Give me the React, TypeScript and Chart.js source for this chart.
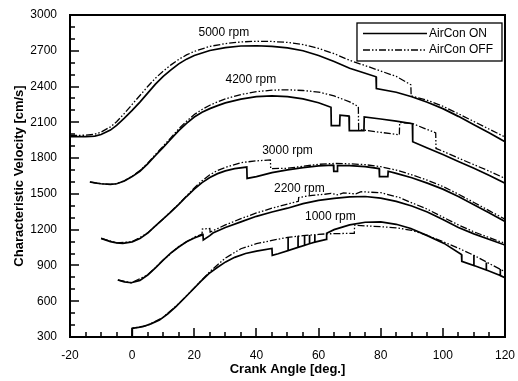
import { useEffect, useRef } from "react";
import { Chart, registerables } from "chart.js";

Chart.register(...registerables);

type Pt = [number, number];

// Crank angle [deg.] vs characteristic velocity [cm/s]
const on5000: Pt[] = [[-20,1980],[-15,1980],[-12,1985],[-10,1998],[-7,2035],[-5,2075],[-2.5,2135],[0,2200],[2.5,2270],[5,2345],[7.5,2420],[10,2485],[12.5,2540],[15,2590],[17.5,2630],[20,2660],[25,2702],[30,2727],[35,2740],[40,2742],[45,2737],[50,2725],[55,2700],[60,2660],[65,2610],[70,2553],[75,2512],[78.5,2482],[78.6,2384],[85,2352],[90,2315],[95,2268],[100,2215],[105,2150],[110,2080],[115,2010],[120,1937]];
const off5000: Pt[] = [[-20,1990],[-15,1992],[-12,2000],[-10,2018],[-7,2062],[-5,2105],[-2.5,2175],[0,2250],[2.5,2325],[5,2400],[7.5,2470],[10,2530],[12.5,2582],[15,2628],[17.5,2665],[20,2695],[25,2737],[30,2760],[35,2774],[40,2780],[45,2778],[50,2770],[55,2752],[60,2720],[65,2676],[70,2620],[75,2576],[80,2530],[85,2485],[89.7,2415],[89.8,2322],[95,2285],[100,2235],[105,2172],[110,2107],[115,2042],[120,1977]];

const on4200: Pt[] = [[-13.6,1600],[-12,1592],[-10,1585],[-7,1580],[-5,1585],[-2.5,1608],[0,1645],[2.5,1690],[5,1752],[7.5,1822],[10,1890],[12.5,1960],[15,2030],[17.5,2092],[20,2145],[22.5,2185],[25,2215],[27.5,2240],[30,2263],[35,2295],[40,2315],[45,2322],[50,2316],[55,2297],[60,2264],[64,2226],[64.1,2072],[66.8,2072],[66.9,2160],[69.8,2152],[69.9,2030],[74.6,2030],[74.7,2145],[80,2128],[85,2110],[90.2,2088],[90.3,1937],[95,1885],[100,1830],[105,1772],[110,1715],[115,1655],[120,1590]];
const off4200: Pt[] = [[-13.6,1600],[-10,1585],[-7,1580],[-5,1585],[-2.5,1610],[0,1648],[2.5,1695],[5,1758],[7.5,1830],[10,1900],[12.5,1972],[15,2045],[17.5,2110],[20,2165],[22.5,2208],[25,2243],[27.5,2272],[30,2297],[35,2333],[40,2357],[45,2370],[50,2373],[55,2367],[60,2354],[65,2322],[70,2272],[72.8,2232],[72.9,2040],[80,2016],[86,1995],[86.1,2098],[90.2,2090],[94,2050],[97.7,2012],[97.8,1881],[100,1858],[105,1800],[110,1745],[115,1690],[120,1630]];

const on3000: Pt[] = [[-10,1127],[-7,1100],[-5,1090],[-3,1085],[0,1098],[2.5,1125],[5,1172],[7.5,1232],[10,1290],[12.5,1350],[15,1412],[17.5,1478],[20,1540],[22.5,1595],[25,1638],[27.5,1670],[30,1693],[33,1712],[36.9,1725],[37,1630],[40,1645],[45,1678],[50,1702],[55,1720],[60,1735],[64.8,1742],[64.9,1688],[66,1688],[66.1,1738],[70,1737],[75,1728],[79.5,1712],[79.6,1645],[82.3,1645],[82.4,1690],[85,1672],[90,1635],[95,1590],[100,1540],[105,1478],[110,1408],[115,1340],[120,1268]];
const off3000: Pt[] = [[-10,1127],[-5,1090],[0,1098],[5,1172],[10,1290],[15,1415],[17.5,1483],[20,1550],[22.5,1610],[25,1660],[27.5,1697],[30,1722],[35,1762],[40,1777],[44.5,1785],[44.6,1712],[50,1715],[55,1732],[60,1748],[65,1755],[70,1752],[75,1745],[80,1728],[85,1700],[90,1660],[95,1615],[100,1562],[105,1498],[110,1428],[115,1358],[120,1288]];

const on2200: Pt[] = [[-4.6,778],[-2.5,762],[-0.3,755],[2.5,775],[5,820],[7.5,880],[10,945],[12.5,1005],[15,1055],[17.5,1098],[20,1130],[22.8,1158],[22.9,1113],[25,1150],[26,1172],[30,1218],[35,1265],[40,1312],[45,1348],[50,1380],[55,1418],[60,1445],[65,1463],[70,1475],[75,1478],[80,1465],[85,1437],[90,1398],[95,1348],[100,1285],[105,1218],[110,1165],[115,1118],[120,1071]];
const off2200: Pt[] = [[-4.6,778],[-0.3,755],[5,820],[10,945],[15,1058],[20,1138],[22.5,1162],[22.6,1205],[25,1210],[25.1,1180],[30,1240],[35,1292],[40,1340],[45,1380],[50,1415],[53.5,1438],[53.6,1470],[58,1488],[62,1497],[64,1505],[66,1492],[68,1508],[72,1500],[73.7,1518],[80,1510],[86,1470],[90,1425],[95,1372],[100,1305],[105,1240],[110,1182],[115,1132],[120,1085]];

const on1000: Pt[] = [[0,300],[0.05,373],[3.4,386],[6,410],[8.8,442],[11.5,495],[14.1,554],[16.8,625],[19.4,694],[22,765],[24.7,832],[27.5,885],[30.1,930],[33,968],[36.5,1000],[40,1020],[45,1042],[45.1,985],[47,998],[50.2,1025],[50.2,1138],[50.2,1025],[53.4,1052],[53.4,1148],[53.4,1052],[55.5,1068],[55.5,1152],[55.5,1068],[57.1,1082],[57.1,1155],[57.1,1082],[58.8,1095],[58.8,1158],[58.8,1095],[62.5,1118],[62.6,1170],[65,1200],[70,1240],[75,1262],[80,1266],[85,1245],[89.7,1210],[95,1150],[100.4,1085],[106,992],[106.1,935],[110,900],[110,985],[110,900],[114,862],[114,925],[114,862],[118.5,815],[118.5,870],[118.5,815],[120,797]];
const off1000: Pt[] = [[0,300],[0.05,373],[5,398],[10,465],[15,580],[20,712],[25,848],[30,962],[35,1040],[40,1082],[45,1110],[50,1135],[55,1150],[60,1160],[62.6,1165],[71.5,1170],[71.6,1238],[75,1232],[80,1225],[85,1215],[90,1195],[95,1152],[100,1100],[105,1045],[110,985],[115,915],[120,847]];

const rpmLabels = ["5000 rpm", "4200 rpm", "3000 rpm", "2200 rpm", "1000 rpm"];
const rpmLabelAngles = [29.5, 38.2, 50, 53.8, 63.8];
const rpmLabelVelocities = [2852, 2454, 1859, 1540, 1306];

const seriesOn = [on5000, on4200, on3000, on2200, on1000];
const seriesOff = [off5000, off4200, off3000, off2200, off1000];
const legendNames = ["AirCon ON", "AirCon OFF"];

const xTicks = { min: -20, max: 120, step: 20, minor: 5 };
const yTicks = { min: 300, max: 3000, step: 300, minor: 100 };

const FONT = "'Liberation Sans', Arial, Helvetica, sans-serif";
const OFF_DASH = [7, 2, 1.5, 2, 1.5, 2];

const decorPlugin = {
  id: "decor",
  afterDraw(chart: any) {
    const { ctx, chartArea: a, scales } = chart;
    const xs = scales.x;
    const ys = scales.y;
    ctx.save();
    ctx.strokeStyle = "#000";
    ctx.fillStyle = "#000";
    ctx.setLineDash([]);

    // inward tick marks on the bottom and left axes
    ctx.lineWidth = 1.5;
    ctx.beginPath();
    for (let v = xTicks.min; v <= xTicks.max + 1e-6; v += xTicks.minor) {
      const px = Math.round(xs.getPixelForValue(v));
      const len = Math.abs(v % xTicks.step) < 1e-6 ? 9 : 5;
      ctx.moveTo(px, a.bottom);
      ctx.lineTo(px, a.bottom - len);
    }
    for (let v = yTicks.min; v <= yTicks.max + 1e-6; v += yTicks.minor) {
      const py = Math.round(ys.getPixelForValue(v));
      const len = Math.abs((v - yTicks.min) % yTicks.step) < 1e-6 ? 9 : 5;
      ctx.moveTo(a.left, py);
      ctx.lineTo(a.left + len, py);
    }
    ctx.stroke();

    // plot frame
    ctx.lineWidth = 2;
    ctx.strokeRect(a.left, a.top, a.right - a.left, a.bottom - a.top);

    // speed labels
    ctx.font = `12px ${FONT}`;
    ctx.textAlign = "center";
    ctx.textBaseline = "middle";
    rpmLabels.forEach((t, i) => {
      ctx.fillText(t, xs.getPixelForValue(rpmLabelAngles[i]), ys.getPixelForValue(rpmLabelVelocities[i]));
    });

    // legend box
    const bw = 145, bh = 38;
    const bx = a.right - 3 - bw;
    const by = a.top + 8;
    ctx.fillStyle = "#fff";
    ctx.fillRect(bx, by, bw, bh);
    ctx.fillStyle = "#000";
    ctx.lineWidth = 1.3;
    ctx.strokeRect(bx, by, bw, bh);
    const rows = [by + 10.5, by + 27];
    legendNames.forEach((name, i) => {
      ctx.beginPath();
      ctx.setLineDash(i === 0 ? [] : OFF_DASH);
      ctx.lineWidth = i === 0 ? 1.6 : 1.3;
      ctx.moveTo(bx + 6, rows[i]);
      ctx.lineTo(bx + 70, rows[i]);
      ctx.stroke();
      ctx.setLineDash([]);
      ctx.textAlign = "left";
      ctx.fillText(name, bx + 72, rows[i]);
    });

    // axis titles
    ctx.font = `bold 13px ${FONT}`;
    ctx.textAlign = "center";
    ctx.fillText("Crank Angle [deg.]", (a.left + a.right) / 2, 369);
    ctx.translate(19, (a.top + a.bottom) / 2);
    ctx.rotate(-Math.PI / 2);
    ctx.fillText("Characteristic Velocity [cm/s]", 0, 0);
    ctx.restore();
  },
};

export default function App() {
  const ref = useRef<HTMLCanvasElement | null>(null);

  useEffect(() => {
    if (!ref.current) return;
    const toXY = (arr: Pt[]) => arr.map(([x, y]) => ({ x, y }));
    const datasets: any[] = [];
    seriesOff.forEach((s) =>
      datasets.push({
        data: toXY(s),
        borderColor: "#000",
        borderWidth: 1.3,
        borderDash: OFF_DASH,
        pointRadius: 0,
        tension: 0,
        fill: false,
      })
    );
    seriesOn.forEach((s) =>
      datasets.push({
        data: toXY(s),
        borderColor: "#000",
        borderWidth: 1.7,
        pointRadius: 0,
        tension: 0,
        fill: false,
      })
    );

    const plain = (v: any) => String(v);

    const chart = new Chart(ref.current, {
      type: "line",
      data: { datasets },
      options: {
        animation: false,
        responsive: false,
        maintainAspectRatio: false,
        layout: { padding: { top: 15, right: 10, left: 0, bottom: 0 } },
        plugins: { legend: { display: false }, tooltip: { enabled: false } },
        scales: {
          x: {
            type: "linear",
            min: xTicks.min,
            max: xTicks.max,
            grid: { display: false },
            border: { display: false },
            ticks: { stepSize: xTicks.step, color: "#000", padding: 3, callback: plain, font: { family: FONT, size: 12 }, maxRotation: 0 },
            afterFit: (s: any) => { s.height = 44; },
          },
          y: {
            type: "linear",
            min: yTicks.min,
            max: yTicks.max,
            grid: { display: false },
            border: { display: false },
            ticks: { stepSize: yTicks.step, color: "#000", padding: 5, callback: plain, font: { family: FONT, size: 12 } },
            afterFit: (s: any) => { s.width = 70; },
          },
        },
      },
      plugins: [decorPlugin],
    });
    return () => chart.destroy();
  }, []);

  return (
    <div style={{ position: "fixed", left: 0, top: 0, width: 518, height: 381, background: "#fff" }}>
      <canvas ref={ref} width={518} height={381} />
    </div>
  );
}
